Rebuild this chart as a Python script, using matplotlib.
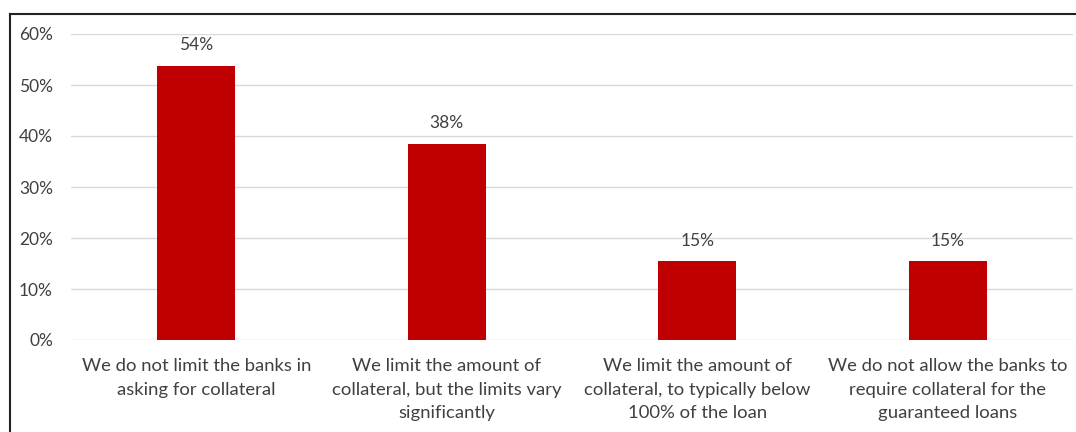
import matplotlib
matplotlib.use("Agg")
import matplotlib.pyplot as plt
from matplotlib.lines import Line2D
from matplotlib.ticker import FuncFormatter

categories = [
    "We do not limit the banks in\nasking for collateral",
    "We limit the amount of\ncollateral, but the limits vary\nsignificantly",
    "We limit the amount of\ncollateral, to typically below\n100% of the loan",
    "We do not allow the banks to\nrequire collateral for the\nguaranteed loans",
]
values = [53.8, 38.5, 15.4, 15.4]
labels = ["54%", "38%", "15%", "15%"]
yticks = [0, 10, 20, 30, 40, 50, 60]

plt.rcParams['font.family'] = ['Lato', 'DejaVu Sans']
W, H = 1076, 432
fig = plt.figure(figsize=(W/100, H/100), dpi=100)
ax = fig.add_axes([71/W, 1-340/H, (1073-71)/W, (340-34)/H])

fs = 12.5
x = list(range(len(categories)))
ax.bar(x, values, width=0.31, color="#C00000", zorder=3)
ax.set_xlim(-0.5, 3.5)
ax.set_ylim(0, 60)
ax.set_yticks(yticks)
ax.yaxis.set_major_formatter(FuncFormatter(lambda v, p: f"{int(v)}%"))
ax.grid(axis='y', color='#D9D9D9', linewidth=1, zorder=0)
for s in ax.spines.values():
    s.set_visible(False)
ax.tick_params(axis='both', length=0, labelsize=fs, colors='#404040')
ax.tick_params(axis='y', pad=13)
ax.tick_params(axis='x', pad=13, labelsize=13.3)
ax.set_xticks(x)
ax.set_xticklabels(categories, linespacing=1.58)
for xi, v, lab in zip(x, values, labels):
    ax.annotate(lab, (xi, v), xytext=(0, 9), textcoords='offset points',
                ha='center', va='bottom', fontsize=fs, color='#404040')

fig.add_artist(Line2D([10/W, 10/W], [0, 1-13.5/H], color='#222222', lw=1.5, transform=fig.transFigure))
fig.add_artist(Line2D([10/W, 1], [1-13.5/H, 1-13.5/H], color='#222222', lw=1.5, transform=fig.transFigure))

fig.savefig("out.png", dpi=100)
